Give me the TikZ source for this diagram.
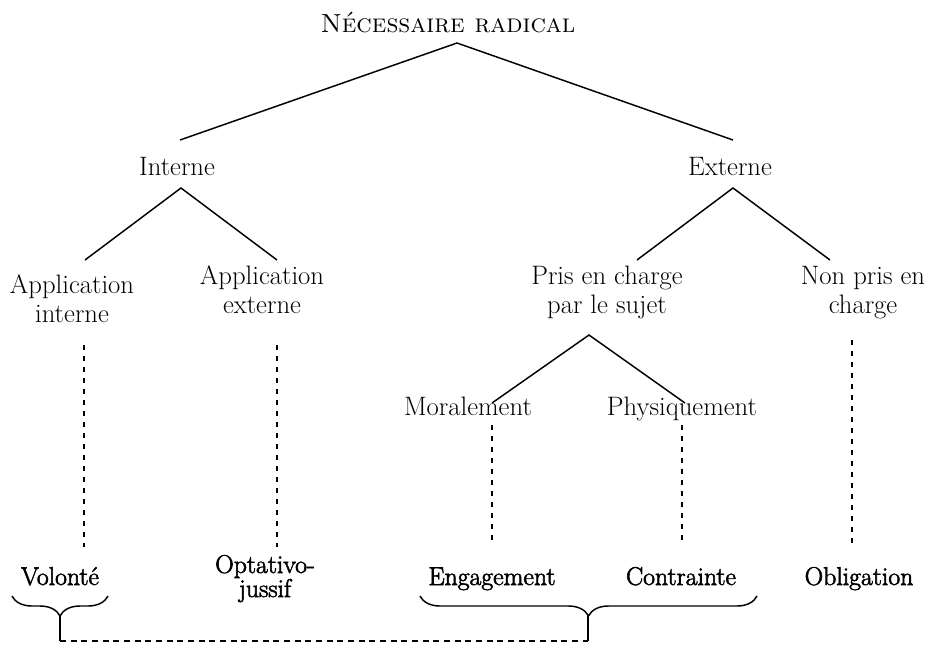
\documentclass[tikz,border=0pt]{standalone}
\usepackage{fontspec}
\usetikzlibrary{decorations.pathreplacing}
\newfontfamily\leaffont{lmroman17-regular.otf}[FakeBold=2.2]
\tikzset{
  lbl/.style={font=\fontsize{20}{21.75}\selectfont, align=center, anchor=base, inner sep=0pt},
  head/.style={lbl, font=\fontsize{19.6}{24}\selectfont},
  leaf/.style={lbl, font=\leaffont\fontsize{19.3}{18}\selectfont},
  branch/.style={line width=1.1pt},
  trace/.style={line width=1.1pt, dash pattern=on 3.75pt off 4.5pt},
  brc/.style={line width=1.1pt, decorate, decoration={brace, amplitude=15pt}},
}

\begin{document}
\begin{tikzpicture}[x=0.75pt, y=-0.75pt]
  \useasboundingbox (0,0) rectangle (929,644);
  % labels
  \node[head] (nr) at (448,32) {\textsc{Nécessaire radical}};
  \node[lbl] (interne) at (177,175) {Interne};
  \node[lbl] (externe) at (730,175) {Externe};
  \node[lbl] (appint) at (72,322) {Application\\ interne};
  \node[lbl] (appext) at (262,313) {Application\\ externe};
  \node[lbl] (pris) at (607,313) {Pris en charge\\ par le sujet};
  \node[lbl] (nonpris) at (863,313) {Non pris en\\ charge};
  \node[lbl] (moral) at (468,415) {Moralement};
  \node[lbl] (phys) at (682,415) {Physiquement};
  \node[leaf] (volonte) at (60,585) {Volonté};
  \node[leaf] (optatif) at (265,597) {Optativo-\\ jussif};
  \node[leaf] (engag) at (492,585) {Engagement};
  \node[leaf] (contr) at (681,585) {Contrainte};
  \node[leaf] (oblig) at (859,585) {Obligation};
  % tree
  \coordinate (nr-f) at (457,43);
  \coordinate (int-h) at (180,140);
  \coordinate (ext-h) at (733,140);
  \coordinate (int-f) at (181,188);
  \coordinate (ext-f) at (733,188);
  \coordinate (ai-h) at (85,260);
  \coordinate (ae-h) at (277,260);
  \coordinate (pr-h) at (637,260);
  \coordinate (np-h) at (830,260);
  \coordinate (pr-f) at (589,335);
  \coordinate (mo-h) at (492,403);
  \coordinate (ph-h) at (685,403);
  \draw[branch] (int-h) -- (nr-f) -- (ext-h);
  \draw[branch] (ai-h) -- (int-f) -- (ae-h);
  \draw[branch] (pr-h) -- (ext-f) -- (np-h);
  \draw[branch] (mo-h) -- (pr-f) -- (ph-h);
  % dashed
  \foreach \n/\x/\ya/\yb in {ai/84/345/547, ae/277/345/547, np/852/340/548, mo/492/425/542, ph/682/425/542}{
    \coordinate (\n-a) at (\x,\ya);
    \coordinate (\n-b) at (\x,\yb);
    \draw[trace] (\n-a) -- (\n-b);
  }
  % braces
  \coordinate (b1-r) at (108,596);
  \coordinate (b1-l) at (12,596);
  \coordinate (b1-t) at (60,616);
  \coordinate (b1-e) at (60,641);
  \coordinate (b2-r) at (757,596);
  \coordinate (b2-l) at (420,596);
  \coordinate (b2-t) at (588,616);
  \coordinate (b2-e) at (588,641);
  \draw[brc] (b1-r) -- (b1-l);
  \draw[brc] (b2-r) -- (b2-l);
  \draw[branch] (b1-t) -- (b1-e);
  \draw[branch] (b2-t) -- (b2-e);
  \draw[trace, dash pattern=on 4.5pt off 3.5pt] (b1-e) -- (b2-e);
\end{tikzpicture}
\end{document}
